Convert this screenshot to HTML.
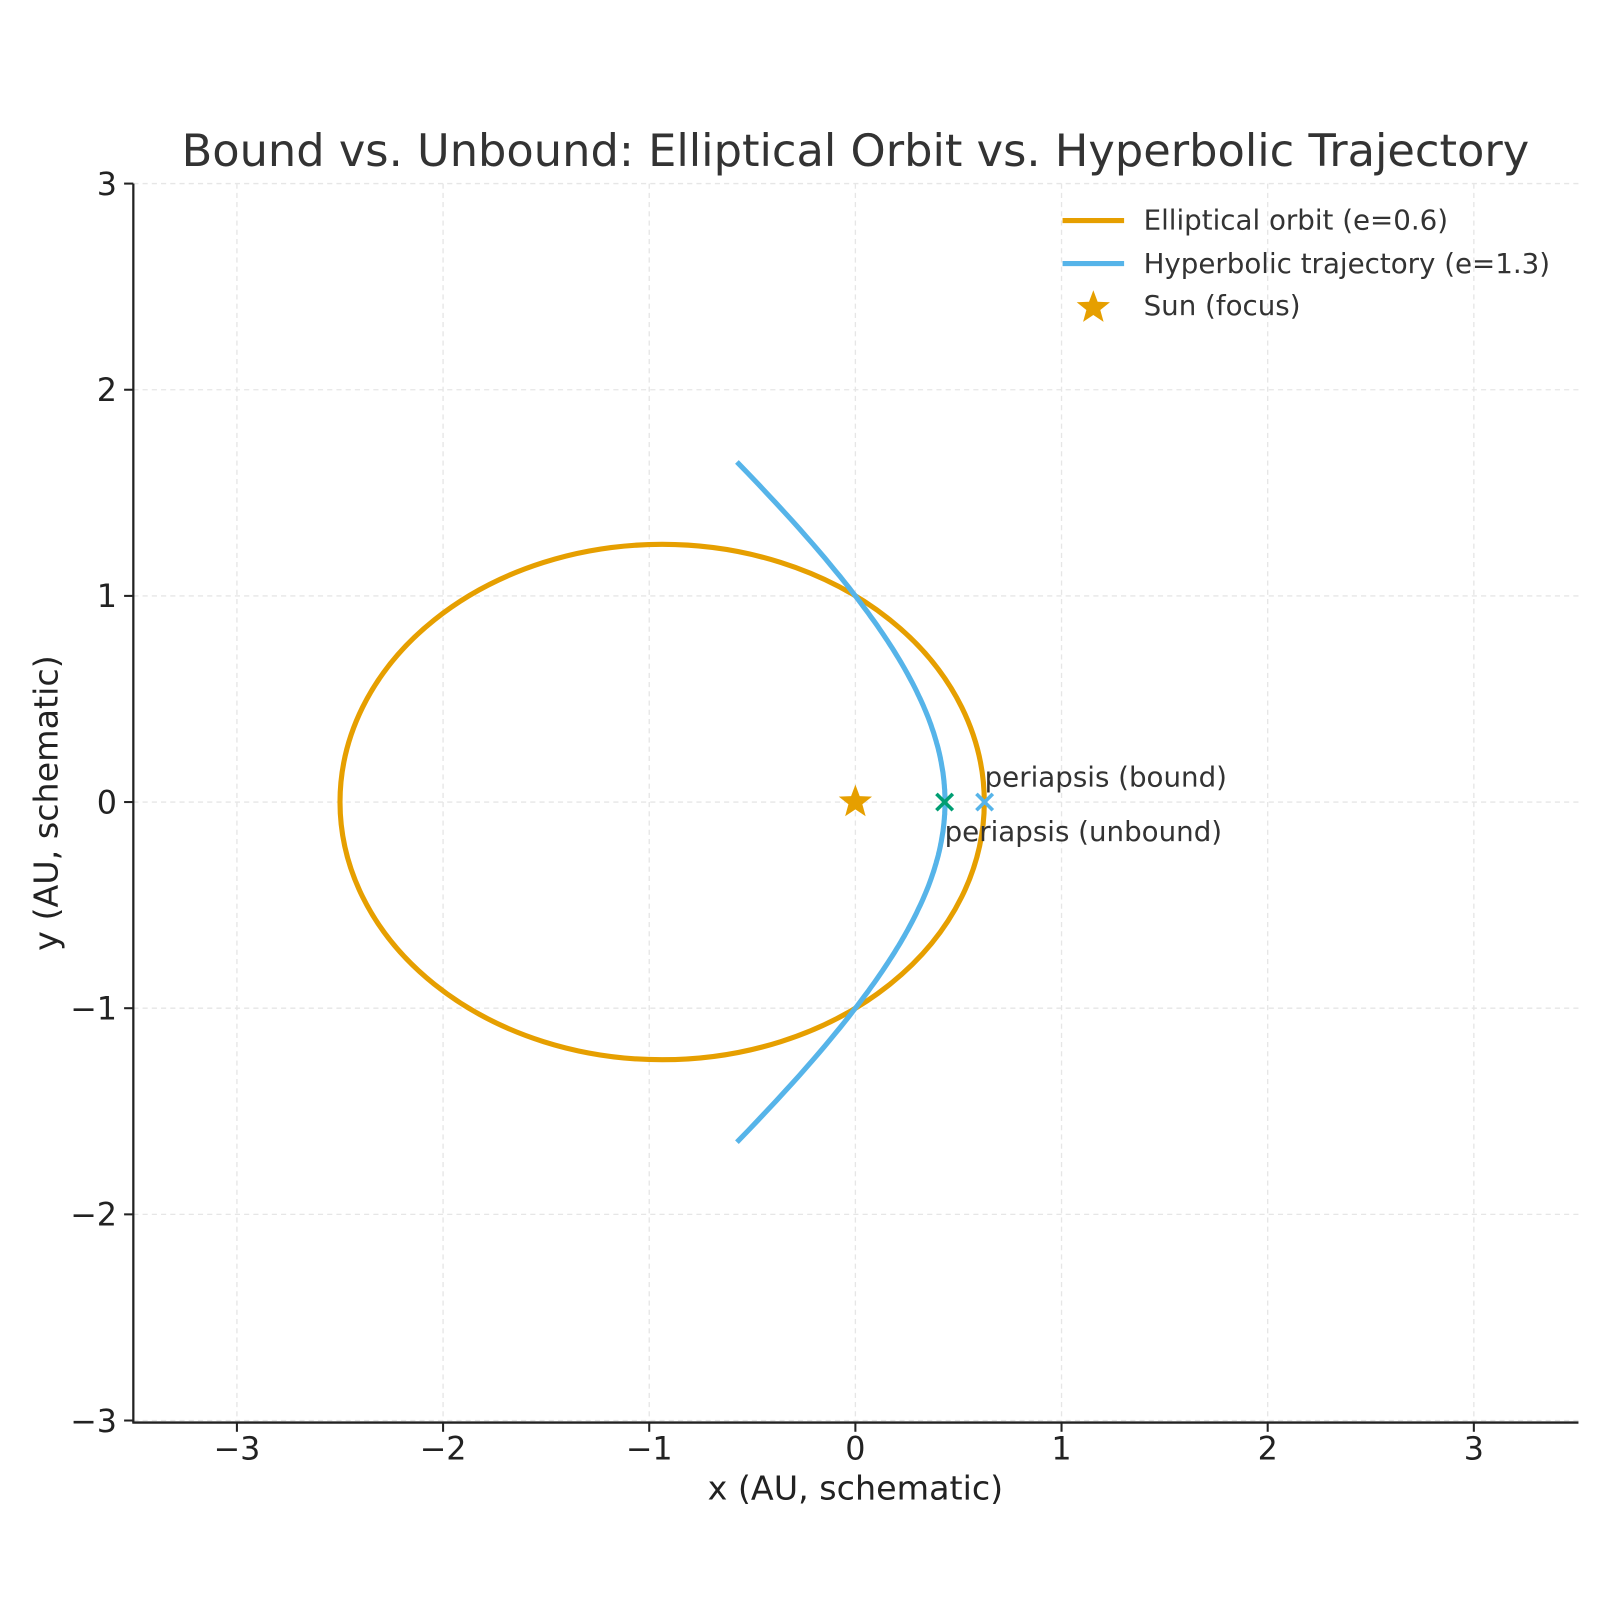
<!DOCTYPE html>
<html><head><meta charset="utf-8"><style>
body{margin:0;background:#fff}
text{font-family:"DejaVu Sans","Liberation Sans",sans-serif}
</style></head><body>
<svg id="s" width="1600" height="1600" xmlns="http://www.w3.org/2000/svg">
<rect width="1600" height="1600" fill="#fff"/>
<g transform="scale(1.02564)">
<g stroke="#e6e6e6" stroke-width="1.3" stroke-dasharray="5,4" id="grid"></g>
<text x="834" y="162" font-size="43.6" fill="#333" text-anchor="middle">Bound vs. Unbound: Elliptical Orbit vs. Hyperbolic Trajectory</text>
<ellipse cx="645.6" cy="782" rx="314.1" ry="251.25" fill="none" stroke="#E69F00" stroke-width="5"/>
<path id="hyp" fill="none" stroke="#56B4E9" stroke-width="5"/>
<polygon id="sun" fill="#E69F00"/>
<g stroke="#009E73" stroke-width="3.5"><line x1="913" y1="774" x2="929" y2="790"/><line x1="913" y1="790" x2="929" y2="774"/></g>
<g stroke="#56B4E9" stroke-width="3.5"><line x1="952" y1="774" x2="968" y2="790"/><line x1="952" y1="790" x2="968" y2="774"/></g>
<text x="960" y="767" font-size="27" fill="#333">periapsis (bound)</text>
<text x="921" y="820" font-size="27" fill="#333">periapsis (unbound)</text>
<g stroke="#222" stroke-width="2.2" fill="none"><line x1="130" y1="179" x2="130" y2="1387"/><line x1="129" y1="1387" x2="1539" y2="1387"/></g>
<g id="ticks" stroke="#222" stroke-width="2"></g>
<g id="tl" font-size="31" fill="#222"></g>
<text x="834" y="1462" font-size="32.5" fill="#222" text-anchor="middle">x (AU, schematic)</text>
<text transform="translate(56,783) rotate(-90)" font-size="32.5" fill="#222" text-anchor="middle">y (AU, schematic)</text>
<g font-size="27" fill="#333">
<line x1="1036" y1="215" x2="1096" y2="215" stroke="#E69F00" stroke-width="5"/>
<text x="1115" y="224">Elliptical orbit (e=0.6)</text>
<line x1="1036" y1="257" x2="1096" y2="257" stroke="#56B4E9" stroke-width="5"/>
<text x="1115" y="266">Hyperbolic trajectory (e=1.3)</text>
<polygon id="sun2" fill="#E69F00"/>
<text x="1115" y="307">Sun (focus)</text>
</g>
</g>
</svg>
<script>
const X=x=>834+201*x,Y=y=>782-201*y,ns="http://www.w3.org/2000/svg";
function el(p,t,a,txt){const e=document.createElementNS(ns,t);for(const k in a)e.setAttribute(k,a[k]);if(txt)e.textContent=txt;document.getElementById(p).appendChild(e);}
for(let i=-3;i<=3;i++){
el("grid","line",{x1:X(i),y1:179,x2:X(i),y2:1387});
el("grid","line",{x1:130,y1:Y(i),x2:1539,y2:Y(i)});
el("ticks","line",{x1:X(i),y1:1387,x2:X(i),y2:1396});
el("ticks","line",{x1:121,y1:Y(i),x2:130,y2:Y(i)});
const s=i<0?"\u2212"+(-i):""+i;
el("tl","text",{x:X(i),y:1423,"text-anchor":"middle"},s);
el("tl","text",{x:114,y:Y(i)+11,"text-anchor":"end"},s);
}
let d="";const tm=109.2*Math.PI/180;
for(let k=0;k<=200;k++){const t=-tm+2*tm*k/200,r=1/(1+1.3*Math.cos(t));d+=(k?"L":"M")+X(r*Math.cos(t)).toFixed(1)+","+Y(r*Math.sin(t)).toFixed(1);}
document.getElementById("hyp").setAttribute("d",d);
function star(id,cx,cy,R){let p=[];for(let k=0;k<10;k++){const a=-Math.PI/2+k*Math.PI/5,r=k%2?R*0.42:R;p.push((cx+r*Math.cos(a)).toFixed(1)+","+(cy+r*Math.sin(a)).toFixed(1));}document.getElementById(id).setAttribute("points",p.join(" "));}
star("sun",834,782,17);star("sun2",1066,300,17);
</script>
</body></html>
